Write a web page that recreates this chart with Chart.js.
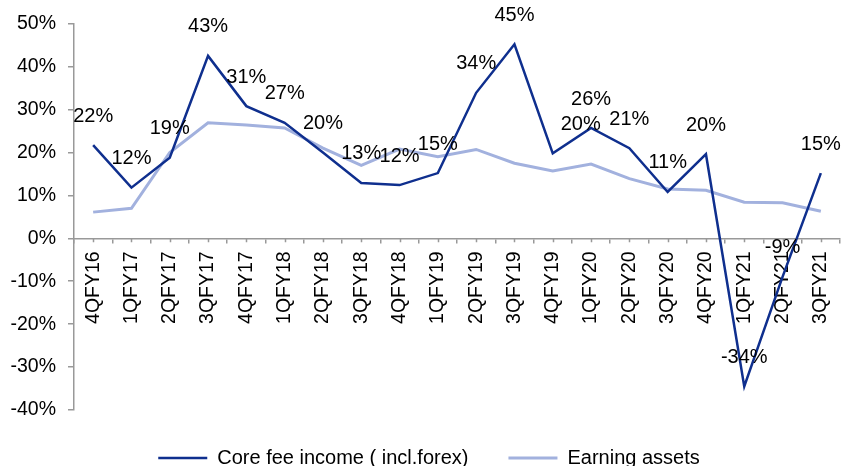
<!DOCTYPE html>
<html>
<head>
<meta charset="utf-8">
<script src="https://cdn.jsdelivr.net/npm/chart.js@4.4.1/dist/chart.umd.min.js"></script>
<style>
  html, body { margin: 0; padding: 0; background: #fff; overflow: hidden; }
  #wrap { width: 841px; height: 466px; overflow: hidden; }
</style>
</head>
<body>
<div id="wrap"><canvas id="chart" width="841" height="488"></canvas></div>
<script>
const quarters = ['4QFY16', '1QFY17', '2QFY17', '3QFY17', '4QFY17', '1QFY18', '2QFY18', '3QFY18', '4QFY18', '1QFY19',
  '2QFY19', '3QFY19', '4QFY19', '1QFY20', '2QFY20', '3QFY20', '4QFY20', '1QFY21', '2QFY21', '3QFY21'];
const coreFeeIncome = [21.7, 11.8, 18.8, 42.5, 30.8, 26.9, 20.0, 12.9, 12.4, 15.2,
  33.9, 45.2, 19.8, 25.7, 21.0, 10.8, 19.6, -34.5, -9.0, 15.2];
const earningAssets = [6.1, 7.0, 20.0, 26.9, 26.4, 25.7, 21.0, 17.0, 20.8, 19.0,
  20.7, 17.5, 15.7, 17.3, 13.9, 11.5, 11.2, 8.4, 8.3, 6.3];
const yTicks = [-40, -30, -20, -10, 0, 10, 20, 30, 40, 50];

const FONT = '"Liberation Sans", Arial, sans-serif';
const AXIS_GREY = '#999999';

// labels above the core fee points, one is nudged right like the original
const pointLabels = {
  id: 'pointLabels',
  afterDatasetsDraw(chart) {
    const meta = chart.getDatasetMeta(0);
    const ctx = chart.ctx;
    ctx.save();
    ctx.font = '20px ' + FONT;
    ctx.fillStyle = '#000';
    ctx.textAlign = 'center';
    ctx.textBaseline = 'middle';
    meta.data.forEach((pt, i) => {
      const dx = i === 12 ? 28 : 0;
      ctx.fillText(Math.round(coreFeeIncome[i]) + '%', pt.x + dx, pt.y - 29);
    });
    ctx.restore();
  }
};

// minor ticks at the category centres
const centreTicks = {
  id: 'centreTicks',
  afterDraw(chart) {
    const xs = chart.scales.x;
    const y0 = chart.scales.y.getPixelForValue(0);
    const ctx = chart.ctx;
    ctx.save();
    ctx.strokeStyle = AXIS_GREY;
    ctx.lineWidth = 1.5;
    ctx.beginPath();
    quarters.forEach((q, i) => {
      const x = Math.round(xs.getPixelForValue(i)) + 0.5;
      ctx.moveTo(x, y0);
      ctx.lineTo(x, y0 + 4);
    });
    ctx.stroke();
    ctx.restore();
  }
};

// the original legend sits a little right of the canvas centre
const nudgeLegend = {
  id: 'nudgeLegend',
  afterLayout(chart) {
    chart.legend.left += 9;
    chart.legend.right += 9;
    chart.legend.top -= 2;
    chart.legend.bottom -= 2;
  }
};

new Chart(document.getElementById('chart'), {
  type: 'line',
  data: {
    labels: quarters,
    datasets: [
      {
        label: 'Core fee income ( incl.forex)',
        data: coreFeeIncome,
        borderColor: '#0f2f8e',
        backgroundColor: '#0f2f8e',
        borderWidth: 2.5,
        pointRadius: 0,
        tension: 0
      },
      {
        label: 'Earning assets',
        data: earningAssets,
        borderColor: '#a2b1de',
        backgroundColor: '#a2b1de',
        borderWidth: 3,
        pointRadius: 0,
        tension: 0
      }
    ]
  },
  options: {
    responsive: false,
    animation: false,
    layout: { padding: { top: 23, right: 1, left: 0, bottom: 8 } },
    plugins: {
      tooltip: { enabled: false },
      legend: {
        position: 'bottom',
        labels: {
          usePointStyle: true,
          pointStyle: 'line',
          pointStyleWidth: 49,
          boxHeight: 20,
          padding: 40,
          color: '#000',
          font: { family: FONT, size: 20 }
        }
      }
    },
    scales: {
      x: {
        position: { y: 0 },
        offset: true,
        afterFit(scale) { scale.paddingLeft = 0; scale.paddingRight = 0; },
        grid: {
          drawOnChartArea: false,
          drawTicks: true,
          tickLength: 4,
          offset: true,
          color: AXIS_GREY,
          lineWidth: 1.5
        },
        border: { color: AXIS_GREY, width: 1.5 },
        ticks: {
          autoSkip: false,
          minRotation: 90,
          maxRotation: 90,
          padding: 9,
          color: '#000',
          font: { family: FONT, size: 19.5 }
        }
      },
      y: {
        min: -40,
        max: 50,
        afterBuildTicks(scale) { scale.ticks = yTicks.map(v => ({ value: v })); },
        afterFit(scale) { scale.width = 74; },
        grid: {
          drawOnChartArea: false,
          drawTicks: true,
          tickLength: 6,
          color: AXIS_GREY,
          lineWidth: 1.5
        },
        border: { color: AXIS_GREY, width: 1.5 },
        ticks: {
          padding: 12,
          color: '#000',
          font: { family: FONT, size: 19.5 },
          callback: v => v + '%'
        }
      }
    }
  },
  plugins: [pointLabels, centreTicks, nudgeLegend]
});
</script>
</body>
</html>
